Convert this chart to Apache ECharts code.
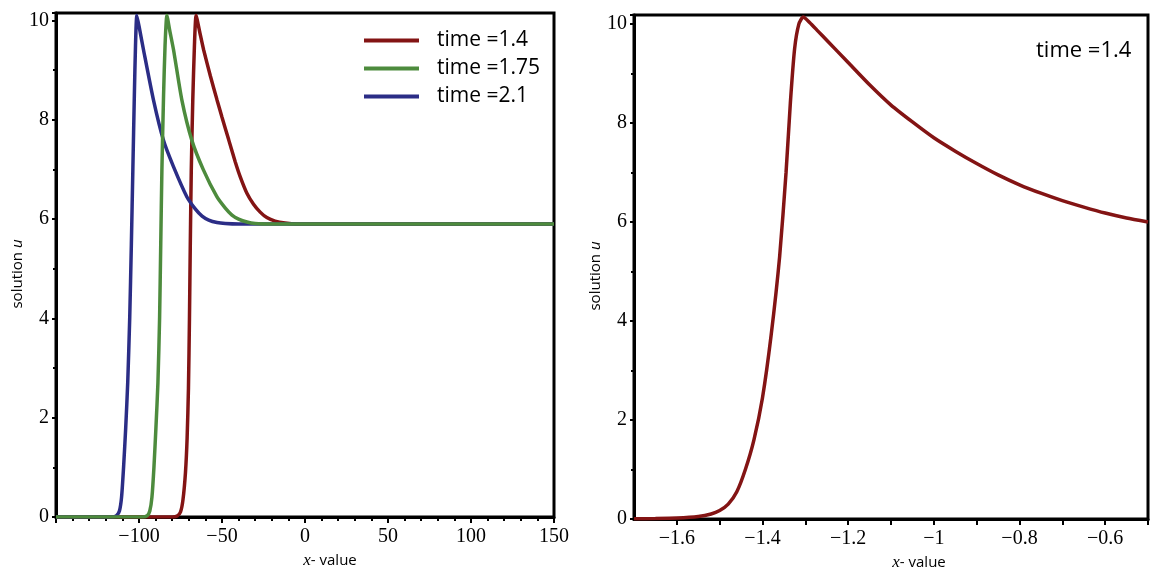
<!DOCTYPE html>
<html>
<head>
<meta charset="utf-8">
<script src="https://cdn.jsdelivr.net/npm/echarts@6/dist/echarts.min.js"></script>
<style>
html,body{margin:0;padding:0;background:#fff;}
#chart{width:1159px;height:582px;}
</style>
</head>
<body>
<div id="chart"></div>
<script>
// ---- data ----
var seriesNames = ['time =1.4', 'time =1.75', 'time =2.1'];
var rightLabel = 'time =1.4';

// left panel, time = 1.4
var redX = [-150, -80, -77, -75, -73.5, -72, -71, -70.2, -69.6, -69.1, -68.5, -67.6, -66.6, -65.6, -63.5, -61, -57, -53, -50, -46, -42, -39, -35, -31, -27, -23, -18, -12, -5, 150];
var redU = [0, 0, 0.02, 0.1, 0.35, 0.9, 1.6, 2.6, 4.0, 5.5, 7.0, 8.4, 9.5, 10.1, 9.78, 9.4, 8.88, 8.4, 8.05, 7.6, 7.15, 6.85, 6.52, 6.3, 6.14, 6.03, 5.96, 5.92, 5.9, 5.9];

// left panel, time = 1.75
var greenX = [-150, -98, -95, -93.5, -92.2, -91, -89.8, -88.6, -87.6, -86.9, -86.2, -85.2, -84.3, -83.2, -81.5, -79.2, -74.2, -68.2, -61.2, -53.1, -48, -44, -40, -35, -30, -20, 150];
var greenU = [0, 0, 0.03, 0.12, 0.4, 1.0, 1.8, 2.7, 4.0, 5.5, 7.0, 8.5, 9.5, 10.1, 9.8, 9.41, 8.4, 7.59, 6.99, 6.45, 6.22, 6.08, 6.0, 5.94, 5.91, 5.9, 5.9];

// left panel, time = 2.1
var blueX = [-150, -116, -113.5, -111.8, -110.5, -109.3, -108, -106.8, -105.6, -104.6, -103.7, -102.8, -102.1, -101.3, -99.5, -97.3, -91.3, -85.3, -79.3, -71.2, -66, -62, -58, -53, -48, -40, 150];
var blueU = [0, 0, 0.03, 0.12, 0.4, 1.0, 1.8, 2.7, 4.0, 5.5, 7.0, 8.5, 9.5, 10.1, 9.8, 9.41, 8.4, 7.59, 7.06, 6.45, 6.2, 6.06, 5.98, 5.93, 5.91, 5.9, 5.9];

// right panel, time = 1.4 (zoomed x scale)
var rightX = [-1.70, -1.65, -1.60, -1.55, -1.52, -1.50, -1.48, -1.46, -1.44, -1.42, -1.40, -1.38, -1.36, -1.345, -1.335, -1.325, -1.315, -1.305, -1.29, -1.27, -1.25, -1.20, -1.15, -1.10, -1.05, -1.00, -0.95, -0.90, -0.85, -0.80, -0.75, -0.70, -0.65, -0.60, -0.55, -0.50];
var rightU = [0.005, 0.01, 0.02, 0.05, 0.1, 0.17, 0.3, 0.55, 1.0, 1.6, 2.45, 3.7, 5.3, 7.0, 8.4, 9.5, 10.0, 10.14, 10.03, 9.85, 9.67, 9.22, 8.77, 8.36, 8.02, 7.7, 7.43, 7.18, 6.95, 6.75, 6.58, 6.43, 6.3, 6.18, 6.08, 6.0];

// tick settings
var leftXTicks = {min: -150, max: 150, interval: 50};
var rightXTicks = {min: -1.7, max: -0.5, interval: 0.1};
var leftYTicks = {min: 0, max: 10.15, interval: 2};
var rightYTicks = {min: 0, max: 10.18, interval: 2};

var colors = ['#831414', '#4d8b3d', '#2b2d86'];

function zip(xs, ys) { return xs.map(function (x, i) { return [x, ys[i]]; }); }
function minusFmt(v) {
  var s = String(+(+v).toFixed(4));
  return s.replace('-', '\u2212');
}

var serif = '"Liberation Serif", "DejaVu Serif", serif';
var sans = '"Open Sans", "DejaVu Sans", sans-serif';

function xAxisCommon(idx, ticks, isRight) {
  return {
    type: 'value', gridIndex: idx, min: ticks.min, max: ticks.max, interval: ticks.interval,
    name: '{i|x}{s|- value}', nameLocation: 'middle', nameGap: 35,
    nameTextStyle: {padding: [0, 0, 0, isRight ? 56 : 50],
      rich: {i: {fontFamily: serif, fontStyle: 'italic', fontSize: 17, color: '#000'},
             s: {fontFamily: sans, fontSize: 15, color: '#000'}}},
    axisLine: {show: true, onZero: false, lineStyle: {color: '#000', width: 3}},
    axisTick: {show: true, inside: false, length: 6, lineStyle: {color: '#000', width: 2}},
    minorTick: {show: !isRight, splitNumber: 5, length: 4, lineStyle: {color: '#000', width: 2}},
    splitLine: {show: false}, minorSplitLine: {show: false},
    axisLabel: {
      color: '#000', fontFamily: serif, fontSize: 20, margin: 10, showMinLabel: false,
      formatter: isRight ? function (v) {
        var k = Math.round(v * 10);
        if (k % 2 !== 0) return '';
        return minusFmt(k / 10);
      } : function (v) { return minusFmt(v); }
    }
  };
}
function yAxisCommon(idx, ticks, gap) {
  return {
    type: 'value', gridIndex: idx, min: ticks.min, max: ticks.max, interval: ticks.interval,
    name: '{s|solution }{i|u}', nameLocation: 'middle', nameGap: gap,
    nameTextStyle: {padding: [0, 18, 0, 0],
      rich: {s: {fontFamily: sans, fontSize: 15, color: '#000'},
             i: {fontFamily: sans, fontStyle: 'italic', fontSize: 15, color: '#000'}}},
    axisLine: {show: true, onZero: false, lineStyle: {color: '#000', width: 3}},
    axisTick: {show: true, inside: false, length: 4, lineStyle: {color: '#000', width: 2}},
    minorTick: {show: true, splitNumber: 2, length: 3, lineStyle: {color: '#000', width: 2}},
    splitLine: {show: false}, minorSplitLine: {show: false},
    axisLabel: {color: '#000', fontFamily: serif, fontSize: 20, margin: 7, showMaxLabel: false,
      formatter: function (v) { return minusFmt(v); }}
  };
}

function lineSeries(name, data, color, xi, yi, z) {
  return {
    type: 'line', name: name, data: data, xAxisIndex: xi, yAxisIndex: yi,
    symbol: 'none', showSymbol: false, smooth: 0.2, z: z,
    lineStyle: {color: color, width: 3.5}, itemStyle: {color: color},
    animation: false
  };
}

var chart = echarts.init(document.getElementById('chart'), null, {renderer: 'canvas'});
chart.setOption({
  backgroundColor: '#fff',
  animation: false,
  grid: [
    {left: 56, top: 13, width: 498, height: 504, show: true, borderColor: '#000', borderWidth: 3, backgroundColor: 'transparent'},
    {left: 634, top: 15, width: 514, height: 504, show: true, borderColor: '#000', borderWidth: 3, backgroundColor: 'transparent'}
  ],
  xAxis: [xAxisCommon(0, leftXTicks, false), xAxisCommon(1, rightXTicks, true)],
  yAxis: [yAxisCommon(0, leftYTicks, 15), yAxisCommon(1, rightYTicks, 14)],
  legend: {
    orient: 'vertical', left: 364, top: 30, padding: 0, itemWidth: 55, itemHeight: 4, itemGap: 7,
    icon: 'rect', data: seriesNames, selectedMode: false,
    textStyle: {fontFamily: sans, fontSize: 21, color: '#000', lineHeight: 21, padding: [0, 0, 0, 13]}
  },
  title: {
    text: rightLabel, left: 1036, top: 40, padding: 0,
    textStyle: {fontFamily: sans, fontSize: 22, fontWeight: 'normal', color: '#000'}
  },
  series: [
    lineSeries(seriesNames[0], zip(redX, redU), colors[0], 0, 0, 2),
    lineSeries(seriesNames[1], zip(greenX, greenU), colors[1], 0, 0, 4),
    lineSeries(seriesNames[2], zip(blueX, blueU), colors[2], 0, 0, 3),
    lineSeries('right ' + rightLabel, zip(rightX, rightU), colors[0], 1, 1, 2)
  ]
});
</script>
</body>
</html>
